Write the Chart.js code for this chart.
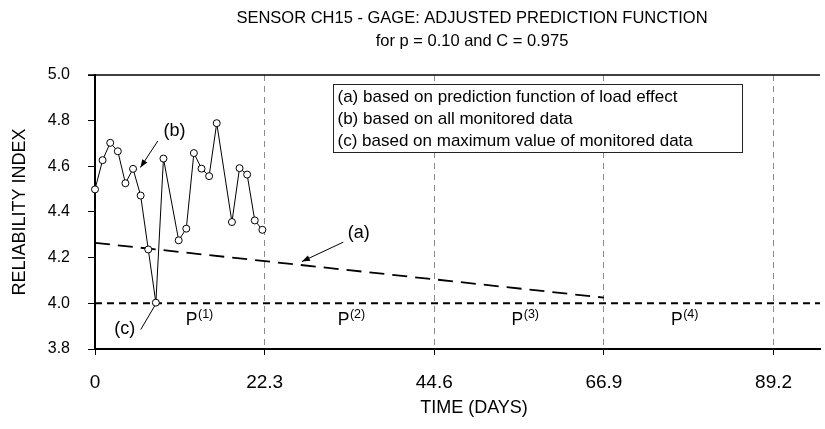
<!DOCTYPE html>
<html lang="en">
<head>
    <meta charset="UTF-8">
    <title>Sensor CH15 - Gage</title>
    <script src="https://cdn.jsdelivr.net/npm/chart.js"></script>
    <style>
        body { margin: 0; background: #fff; }
    </style>
</head>
<body>
    <canvas id="myChart" width="825" height="429"></canvas>
    <script>
        // data
        const days = [0, 1, 2, 3, 4, 5, 6, 7, 8, 9, 11, 12, 13, 14, 15, 16, 18, 19, 20, 21, 22];
        const betaMonitored = [4.499, 4.627, 4.703, 4.666, 4.526, 4.589, 4.472, 4.236, 4.003, 4.634,
                               4.276, 4.327, 4.658, 4.590, 4.557, 4.789, 4.356, 4.592, 4.564, 4.363, 4.322];
        const predDays = [0, 66.9];
        const predBeta = [4.265, 4.025];
        const targetBeta = 4.0;
        const xMax = 95.3;
        const xTicks = [0, 22.3, 44.6, 66.9, 89.2];
        const yTicks = [3.8, 4.0, 4.2, 4.4, 4.6, 4.8, 5.0];

        const titleLines = ['SENSOR CH15 - GAGE: ADJUSTED PREDICTION FUNCTION', 'for p = 0.10 and C = 0.975'];
        const xTitle = 'TIME (DAYS)';
        const yTitle = 'RELIABILITY INDEX';
        const legendLines = [
            '(a) based on prediction function of load effect',
            '(b) based on all monitored data',
            '(c) based on maximum value of monitored data'
        ];

        // callouts: label position and pointer line, in data units
        const calloutText = ['(a)', '(b)', '(c)'];
        const calloutAt = [[34.66, 4.308], [10.45, 4.754], [3.92, 3.889]];
        const calloutFrom = [[32.64, 4.268], [8.26, 4.711], [6.01, 3.885]];
        const calloutTo = [[27.2, 4.183], [5.97, 4.595], [7.83, 3.988]];
        const calloutHead = [true, true, false];

        // period labels P(1)..P(4)
        const periodSup = ['(1)', '(2)', '(3)', '(4)'];
        const periodX = [13.71, 33.68, 56.53, 77.49];
        const periodY = 3.905;

        const FONT = '"Liberation Sans", Arial, sans-serif';

        const canvas = document.getElementById('myChart');

        function arrow(ctx, x1, y1, x2, y2, head) {
            ctx.beginPath();
            ctx.moveTo(x1, y1);
            ctx.lineTo(x2, y2);
            ctx.stroke();
            if (!head) return;
            const a = Math.atan2(y2 - y1, x2 - x1);
            const len = 8, w = 3;
            ctx.beginPath();
            ctx.moveTo(x2, y2);
            ctx.lineTo(x2 - len * Math.cos(a) + w * Math.sin(a), y2 - len * Math.sin(a) - w * Math.cos(a));
            ctx.lineTo(x2 - len * Math.cos(a) - w * Math.sin(a), y2 - len * Math.sin(a) + w * Math.cos(a));
            ctx.closePath();
            ctx.fill();
        }

        const extras = {
            id: 'extras',
            afterDraw(chart) {
                const ctx = chart.ctx;
                const area = chart.chartArea;
                const sx = chart.scales.x, sy = chart.scales.y;
                ctx.save();
                ctx.fillStyle = '#000';
                ctx.strokeStyle = '#000';

                // frame: top line, solid x axis line
                ctx.lineWidth = 1.5;
                ctx.beginPath();
                ctx.moveTo(area.left - 7, area.top);
                ctx.lineTo(area.right, area.top);
                ctx.stroke();
                ctx.lineWidth = 2;
                ctx.beginPath();
                ctx.moveTo(area.left, area.bottom);
                ctx.lineTo(area.right, area.bottom);
                ctx.stroke();

                // titles
                ctx.textAlign = 'center';
                ctx.textBaseline = 'middle';
                ctx.font = '16.5px ' + FONT;
                ctx.fillText(titleLines[0], 472, 18);
                ctx.fillText(titleLines[1], 472, 41);

                ctx.font = '18px ' + FONT;
                ctx.fillText(xTitle, 474, 408);
                ctx.save();
                ctx.translate(20, (area.top + area.bottom) / 2);
                ctx.rotate(-Math.PI / 2);
                ctx.fillText(yTitle, 0, 0);
                ctx.restore();

                // legend box
                const bx = area.left + 238.5, by = area.top + 9.5;
                ctx.fillStyle = '#fff';
                ctx.fillRect(bx, by, 409, 68);
                ctx.lineWidth = 1;
                ctx.strokeStyle = '#222';
                ctx.strokeRect(bx, by, 409, 68);
                ctx.fillStyle = '#000';
                ctx.textAlign = 'left';
                ctx.font = '17px ' + FONT;
                legendLines.forEach((t, i) => ctx.fillText(t, bx + 4, by + 13 + i * 22));

                // callouts
                ctx.strokeStyle = '#000';
                ctx.lineWidth = 1;
                ctx.textAlign = 'center';
                ctx.font = '18px ' + FONT;
                calloutText.forEach((t, i) => {
                    ctx.fillText(t, sx.getPixelForValue(calloutAt[i][0]), sy.getPixelForValue(calloutAt[i][1]));
                    arrow(ctx,
                        sx.getPixelForValue(calloutFrom[i][0]), sy.getPixelForValue(calloutFrom[i][1]),
                        sx.getPixelForValue(calloutTo[i][0]), sy.getPixelForValue(calloutTo[i][1]),
                        calloutHead[i]);
                });

                // P(n) labels with superscript
                ctx.textBaseline = 'alphabetic';
                ctx.textAlign = 'left';
                periodSup.forEach((s, i) => {
                    ctx.font = '17.5px ' + FONT;
                    const wP = ctx.measureText('P').width;
                    ctx.font = '12.5px ' + FONT;
                    const wS = ctx.measureText(s).width;
                    const x0 = sx.getPixelForValue(periodX[i]) - (wP + wS) / 2;
                    const y0 = sy.getPixelForValue(periodY);
                    ctx.font = '17.5px ' + FONT;
                    ctx.fillText('P', x0, y0);
                    ctx.font = '12.5px ' + FONT;
                    ctx.fillText(s, x0 + wP + 0.5, y0 - 7);
                });
                ctx.restore();
            }
        };

        const data = {
            datasets: [
                {
                    label: '(b)',
                    data: days.map((d, i) => ({x: d, y: betaMonitored[i]})),
                    borderColor: '#000',
                    borderWidth: 1,
                    pointRadius: 3.5,
                    pointBackgroundColor: '#fff',
                    pointBorderColor: '#000',
                    pointBorderWidth: 1,
                    clip: false
                },
                {
                    label: '(a)',
                    data: predDays.map((d, i) => ({x: d, y: predBeta[i]})),
                    borderColor: '#000',
                    borderWidth: 1.8,
                    borderDash: [15, 8],
                    pointRadius: 0
                },
                {
                    label: 'target',
                    data: [{x: 0, y: targetBeta}, {x: xMax, y: targetBeta}],
                    borderColor: '#000',
                    borderWidth: 2,
                    borderDash: [7, 5],
                    pointRadius: 0
                }
            ]
        };

        const config = {
            type: 'line',
            data: data,
            options: {
                responsive: false,
                animation: false,
                layout: { padding: { top: 75, left: 0, right: 0, bottom: 0 } },
                plugins: { legend: { display: false }, tooltip: { enabled: false } },
                scales: {
                    x: {
                        type: 'linear',
                        min: 0,
                        max: xMax,
                        afterBuildTicks: s => { s.ticks = xTicks.map(v => ({value: v})); },
                        afterFit: s => { s.height = 80; },
                        border: { color: '#000', width: 2, dash: [6, 5] },
                        grid: {
                            color: '#8c8c8c', lineWidth: 1,
                            tickColor: '#000', tickBorderDash: [], tickLength: 6, tickWidth: 1
                        },
                        ticks: {
                            color: '#000', padding: 16, maxRotation: 0,
                            font: { family: FONT, size: 19 },
                            callback: v => String(v)
                        }
                    },
                    y: {
                        min: 3.8,
                        max: 5.0,
                        afterBuildTicks: s => { s.ticks = yTicks.map(v => ({value: v})); },
                        afterFit: s => { s.width = 95; },
                        border: { color: '#000', width: 2 },
                        grid: { drawOnChartArea: false, tickColor: '#000', tickLength: 7, tickWidth: 1 },
                        ticks: {
                            color: '#000', padding: 18,
                            font: { family: FONT, size: 16 },
                            callback: v => v.toFixed(1)
                        }
                    }
                }
            },
            plugins: [extras]
        };
        new Chart(canvas, config);
    </script>
</body>
</html>
